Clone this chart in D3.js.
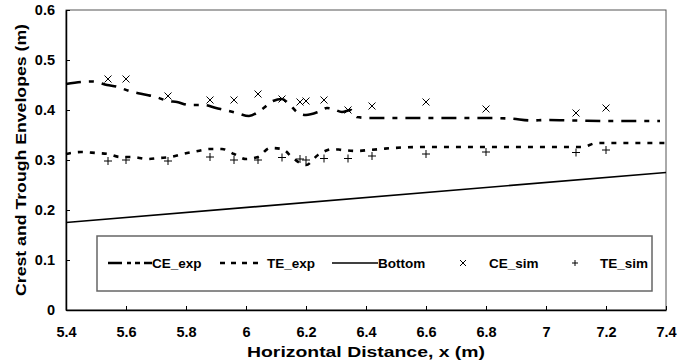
<!DOCTYPE html>
<html>
<head>
<meta charset="utf-8">
<script src="https://cdn.jsdelivr.net/npm/d3@7/dist/d3.min.js"></script>
<style>
  html, body { margin: 0; padding: 0; background: #fff; }
  svg { display: block; }
  text { font-family: "Liberation Sans", Arial, sans-serif; font-weight: bold; fill: #000; }
</style>
</head>
<body>
<svg id="chart" width="689" height="362"></svg>
<script>
// Measured crest envelope (CE_exp)
const ceExpX = [5.40, 5.45, 5.49, 5.537, 5.573, 5.61, 5.67, 5.70, 5.74, 5.77, 5.81, 5.86, 5.90, 5.93, 5.97,
                6.01, 6.05, 6.09, 6.12, 6.14, 6.17, 6.20, 6.24, 6.27, 6.29, 6.32, 6.35, 6.37, 6.41,
                6.50, 6.60, 6.70, 6.80, 6.88, 6.95, 7.00, 7.10, 7.20, 7.30, 7.38];
const ceExpY = [0.452, 0.456, 0.457, 0.450, 0.446, 0.438, 0.430, 0.426, 0.418, 0.416, 0.410, 0.410, 0.404, 0.400, 0.394,
                0.388, 0.400, 0.418, 0.422, 0.414, 0.396, 0.390, 0.396, 0.404, 0.402, 0.396, 0.400, 0.386, 0.384,
                0.384, 0.384, 0.384, 0.384, 0.383, 0.379, 0.380, 0.379, 0.378, 0.378, 0.378];

// Measured trough envelope (TE_exp)
const teExpX = [5.40, 5.45, 5.50, 5.54, 5.58, 5.62, 5.67, 5.71, 5.75, 5.79, 5.84, 5.88, 5.92, 5.96, 6.00,
                6.04, 6.08, 6.12, 6.16, 6.20, 6.24, 6.29, 6.32, 6.37, 6.41, 6.45, 6.49, 6.60, 6.80,
                7.00, 7.12, 7.17, 7.30, 7.40];
const teExpY = [0.312, 0.316, 0.314, 0.312, 0.306, 0.306, 0.302, 0.304, 0.306, 0.312, 0.318, 0.322, 0.322, 0.312, 0.302,
                0.306, 0.324, 0.322, 0.302, 0.290, 0.310, 0.322, 0.320, 0.318, 0.320, 0.322, 0.324, 0.326, 0.326,
                0.326, 0.326, 0.334, 0.334, 0.334];

// Sloping bed
const bottomX = [5.4, 7.4];
const bottomY = [0.175, 0.275];

// Simulated envelopes
const simX  = [5.54, 5.60, 5.74, 5.88, 5.96, 6.04, 6.12, 6.18, 6.20, 6.26, 6.34, 6.42, 6.60, 6.80, 7.10, 7.20];
const ceSim = [0.462, 0.462, 0.428, 0.420, 0.420, 0.432, 0.422, 0.416, 0.418, 0.420, 0.400, 0.408, 0.416, 0.402, 0.394, 0.404];
const teSim = [0.298, 0.300, 0.298, 0.306, 0.300, 0.300, 0.305, 0.302, 0.300, 0.303, 0.303, 0.308, 0.312, 0.316, 0.315, 0.320];

const xTicks = [5.4, 5.6, 5.8, 6, 6.2, 6.4, 6.6, 6.8, 7, 7.2, 7.4];
const yTicks = [0, 0.1, 0.2, 0.3, 0.4, 0.5, 0.6];

const legendNames = ["CE_exp", "TE_exp", "Bottom", "CE_sim", "TE_sim"];

const svg = d3.select("#chart");
const plot = { left: 66, right: 666, top: 10, bottom: 310 };

const x = d3.scaleLinear().domain([5.4, 7.4]).range([plot.left, plot.right]);
const y = d3.scaleLinear().domain([0, 0.6]).range([plot.bottom, plot.top]);

const tickFont = "14.5px";
const titleFont = "15px";
const legendFont = "13.5px";

// Plot-area frame
svg.append("rect")
  .attr("x", plot.left).attr("y", plot.top)
  .attr("width", plot.right - plot.left).attr("height", plot.bottom - plot.top)
  .attr("fill", "none").attr("stroke", "#555").attr("stroke-width", 1);

// Axes with inward ticks
const xAxis = svg.append("g")
  .attr("transform", `translate(0,${plot.bottom})`)
  .call(d3.axisBottom(x).tickValues(xTicks).tickFormat(d3.format("")).tickSizeInner(-4).tickSizeOuter(0).tickPadding(17));
const yAxis = svg.append("g")
  .attr("transform", `translate(${plot.left},0)`)
  .call(d3.axisLeft(y).tickValues(yTicks).tickFormat(d3.format("")).tickSizeInner(-4).tickSizeOuter(0).tickPadding(11));

[xAxis, yAxis].forEach(g => {
  g.select(".domain").attr("stroke", "#000").attr("stroke-width", 1.5);
  g.selectAll(".tick line").attr("stroke", "#000").attr("stroke-width", 1);
  g.selectAll(".tick text")
    .attr("font-family", "Liberation Sans, Arial, sans-serif")
    .attr("font-weight", "bold").attr("font-size", tickFont).attr("fill", "#000");
});

// Axis titles
svg.append("text")
  .attr("x", (plot.left + plot.right) / 2).attr("y", 357)
  .attr("text-anchor", "middle").attr("font-size", titleFont)
  .attr("textLength", 238).attr("lengthAdjust", "spacingAndGlyphs")
  .text("Horizontal Distance, x (m)");
svg.append("text")
  .attr("transform", `translate(26,${(plot.top + plot.bottom) / 2}) rotate(-90)`)
  .attr("text-anchor", "middle").attr("font-size", titleFont)
  .attr("textLength", 272).attr("lengthAdjust", "spacingAndGlyphs")
  .text("Crest and Trough Envelopes (m)");

const line = d3.line().x(d => x(d[0])).y(d => y(d[1])).curve(d3.curveMonotoneX);
const zip = (a, b) => a.map((v, i) => [v, b[i]]);

const ceDash = "15,8,5,8";
const teDash = "5,7";

svg.append("path").datum(zip(bottomX, bottomY))
  .attr("d", line).attr("fill", "none").attr("stroke", "#000").attr("stroke-width", 1.6);

svg.append("path").datum(zip(teExpX, teExpY))
  .attr("d", line).attr("fill", "none").attr("stroke", "#000")
  .attr("stroke-width", 2.6).attr("stroke-dasharray", teDash);

svg.append("path").datum(zip(ceExpX, ceExpY))
  .attr("d", line).attr("fill", "none").attr("stroke", "#000")
  .attr("stroke-width", 2.6).attr("stroke-dasharray", ceDash);

// Marker shapes
const crossPath = s => `M${-s},${-s}L${s},${s}M${-s},${s}L${s},${-s}`;
const plusPath = s => `M${-s},0L${s},0M0,${-s}L0,${s}`;

svg.append("g").selectAll("path").data(zip(simX, ceSim)).join("path")
  .attr("transform", d => `translate(${x(d[0])},${y(d[1])})`)
  .attr("d", crossPath(3.5)).attr("stroke", "#000").attr("stroke-width", 1).attr("fill", "none");

svg.append("g").selectAll("path").data(zip(simX, teSim)).join("path")
  .attr("transform", d => `translate(${x(d[0])},${y(d[1])})`)
  .attr("d", plusPath(4)).attr("stroke", "#000").attr("stroke-width", 1).attr("fill", "none");

// Legend
const legend = svg.append("g");
legend.append("rect")
  .attr("x", 97).attr("y", 236).attr("width", 555).attr("height", 55)
  .attr("fill", "#fff").attr("stroke", "#666").attr("stroke-width", 1.5);

const ly = 263;
legend.append("line").attr("x1", 108).attr("x2", 152).attr("y1", ly).attr("y2", ly)
  .attr("stroke", "#000").attr("stroke-width", 2.6).attr("stroke-dasharray", "14,5,4,4,5,4,10");
legend.append("line").attr("x1", 220).attr("x2", 264).attr("y1", ly).attr("y2", ly)
  .attr("stroke", "#000").attr("stroke-width", 2.6).attr("stroke-dasharray", "5,6");
legend.append("line").attr("x1", 332).attr("x2", 378).attr("y1", ly).attr("y2", ly)
  .attr("stroke", "#000").attr("stroke-width", 1.6);
legend.append("path").attr("transform", `translate(463,${ly})`).attr("d", crossPath(3))
  .attr("stroke", "#000").attr("stroke-width", 1).attr("fill", "none");
legend.append("path").attr("transform", `translate(575,${ly})`).attr("d", plusPath(3))
  .attr("stroke", "#000").attr("stroke-width", 1).attr("fill", "none");

const textX = [152, 267, 378, 489, 600];
legend.selectAll("text.lg").data(legendNames).join("text")
  .attr("class", "lg")
  .attr("x", (d, i) => textX[i]).attr("y", ly + 5)
  .attr("font-size", legendFont)
  .text(d => d);
</script>
</body>
</html>
